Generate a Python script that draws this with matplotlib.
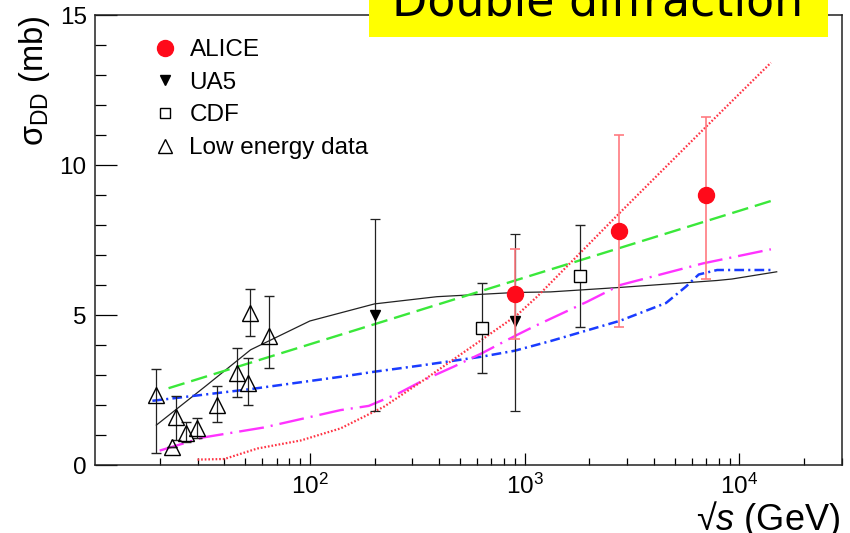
import matplotlib
matplotlib.use("Agg")
import matplotlib.pyplot as plt
from matplotlib.lines import Line2D
from matplotlib.patches import Rectangle
from matplotlib.ticker import FixedLocator, LogLocator, NullFormatter, LogFormatterSciNotation
import numpy as np

plt.rcParams['font.family'] = ['Liberation Sans', 'DejaVu Sans']
plt.rcParams['mathtext.fontset'] = 'custom'
plt.rcParams['mathtext.rm'] = 'Liberation Sans'
plt.rcParams['mathtext.it'] = 'Liberation Sans:italic'
plt.rcParams['mathtext.bf'] = 'Liberation Sans:bold'
plt.rcParams['lines.scale_dashes'] = False

# ---- measurements ----
alice_x = [900, 2760, 7000]
alice_y = [5.7, 7.8, 9.0]
alice_lo = [1.5, 3.2, 2.8]
alice_hi = [1.5, 3.2, 2.6]

ua5_x = [200, 900]
ua5_y = [5.0, 4.8]
ua5_lo = [3.2, 3.0]
ua5_hi = [3.2, 2.9]

cdf_x = [630, 1800]
cdf_y = [4.58, 6.3]
cdf_lo = [1.5, 1.7]
cdf_hi = [1.5, 1.7]

low_x = [19.3, 23.7, 22.9, 26.5, 29.8, 36.8, 45.8, 51.8, 52.5, 64.8]
low_y = [2.33, 1.59, 0.59, 1.06, 1.22, 2.0, 3.06, 2.74, 5.06, 4.3]
low_lo = [1.94, 0.76, 0.0, 0.28, 0.31, 0.56, 0.78, 0.74, 0.76, 1.06]
low_hi = [0.87, 0.71, 0.0, 0.38, 0.36, 0.63, 0.85, 0.82, 0.81, 1.34]

# ---- model curves ----
black_x = [19.3, 33, 53, 100, 200, 390, 900, 1320, 2790, 7860, 9230, 14900]
black_y = [1.33, 2.65, 3.84, 4.8, 5.37, 5.61, 5.75, 5.77, 5.92, 6.15, 6.2, 6.44]

green_x = [22, 14000]
green_y = [2.56, 8.8]

blue_x = [18.5, 53, 139, 200, 323, 630, 900, 1318, 2786, 4550, 5640, 6460, 7870, 14000]
blue_y = [2.14, 2.53, 2.94, 3.11, 3.31, 3.61, 3.81, 4.13, 4.81, 5.4, 5.95, 6.35, 6.5, 6.5]

magenta_x = [20, 32, 61, 139, 188, 259, 339, 468, 630, 900, 1100, 1950, 2786, 6760, 14000]
magenta_y = [0.48, 0.92, 1.25, 1.83, 1.97, 2.39, 2.83, 3.28, 3.72, 4.3, 4.61, 5.44, 6.0, 6.72, 7.19]

red_x = [30, 40, 57, 91, 139, 221, 339, 630, 922, 1142, 2757, 7000, 14000]
red_y = [0.18, 0.2, 0.55, 0.82, 1.22, 1.94, 2.83, 4.17, 5.0, 5.61, 8.39, 11.28, 13.41]

legend_labels = ['ALICE', 'UA5', 'CDF', 'Low energy data']
title_text = 'Double diffraction'
x_major = [1e2, 1e3, 1e4]
y_major = [0, 5, 10, 15]

W, H = 850, 533
fig = plt.figure(figsize=(W / 100, H / 100), dpi=100)
ax = fig.add_axes([95 / W, 1 - 465 / H, (842 - 95) / W, (465 - 15) / H])

ax.set_xscale('log')
ax.set_xlim(10, 3e4)
ax.set_ylim(0, 15)

# curves
ax.plot(black_x, black_y, color='#222222', lw=0.9, zorder=2)
ax.plot(green_x, green_y, color='#3ae83a', lw=1.7, dashes=(12, 5), zorder=2)
ax.plot(blue_x, blue_y, color='#1a3cff', lw=1.8, dashes=(7, 3, 1.5, 3), zorder=2)
ax.plot(magenta_x, magenta_y, color='#ff33ff', lw=1.7, dashes=(18, 5, 1.5, 5), zorder=2)
ax.plot(red_x, red_y, color='#ff3344', lw=1.6, dashes=(1.2, 1.4), zorder=2)

# data points
ax.errorbar(low_x, low_y, yerr=[low_lo, low_hi], fmt='^', ms=12, mfc='none',
            mec='black', mew=1.0, ecolor='#222222', elinewidth=0.9, capsize=3.5,
            capthick=0.9, zorder=4)
ax.errorbar(cdf_x, cdf_y, yerr=[cdf_lo, cdf_hi], fmt='s', ms=8.2, mfc='white',
            mec='black', mew=1.0, ecolor='#222222', elinewidth=0.9, capsize=3.5,
            capthick=0.9, zorder=4)
ax.errorbar(ua5_x, ua5_y, yerr=[ua5_lo, ua5_hi], fmt='v', ms=7, mfc='black',
            mec='black', ecolor='#222222', elinewidth=0.9, capsize=3.5,
            capthick=0.9, zorder=4)
ax.errorbar(alice_x, alice_y, yerr=[alice_lo, alice_hi], fmt='o', ms=11.5,
            mfc='#ff0a1a', mec='#ff0a1a', ecolor='#ff7a80', elinewidth=1.2,
            capsize=3.5, capthick=1.2, zorder=5)

# axes styling
for s in ax.spines.values():
    s.set_linewidth(1.1)
    s.set_color('#222222')
ax.yaxis.set_major_locator(FixedLocator(y_major))
ax.yaxis.set_minor_locator(FixedLocator(np.arange(0, 16, 1)))
ax.xaxis.set_major_locator(FixedLocator(x_major))
ax.xaxis.set_major_formatter(LogFormatterSciNotation())
ax.xaxis.set_minor_locator(LogLocator(base=10, subs=np.arange(2, 10), numticks=20))
ax.xaxis.set_minor_formatter(NullFormatter())
ax.tick_params(axis='y', which='major', direction='in', length=15.5, width=0.9,
               labelsize=17.5, pad=6, right=False)
ax.tick_params(axis='y', which='minor', direction='in', length=8, width=0.9, right=False)
ax.tick_params(axis='x', which='major', direction='in', length=8.6, width=0.9,
               labelsize=17.5, pad=6, top=False)
ax.tick_params(axis='x', which='minor', direction='in', length=5, width=0.9, top=False)

# legend
handles = [
    Line2D([], [], ls='none', marker='o', ms=11.5, mfc='#ff0a1a', mec='#ff0a1a'),
    Line2D([], [], ls='none', marker='v', ms=7.5, mfc='black', mec='black'),
    Line2D([], [], ls='none', marker='s', ms=7.5, mfc='white', mec='black', mew=1.0),
    Line2D([], [], ls='none', marker='^', ms=10, mfc='none', mec='black', mew=1.0),
]
ax.legend(handles, legend_labels, loc='upper left', bbox_to_anchor=(58 / 747, 1 - 24 / 450),
          frameon=False, fontsize=17.5, handlelength=1.0, handletextpad=0.5,
          labelspacing=0.44, borderpad=0, borderaxespad=0)

# axis titles
fig.text(35 / W, 1 - 16 / H, r'$\mathrm{σ}_{\mathrm{DD}}$ (mb)', rotation=90,
         ha='center', va='top', fontsize=23.5)
fig.text(840 / W, 1 - 530 / H, '√$\\mathit{s}$ (GeV)', ha='right', va='baseline',
         fontsize=26)

# headline box
fig.add_artist(Rectangle((369 / W, 1 - 37 / H), (828 - 369) / W, 37 / H,
                         transform=fig.transFigure, facecolor='#ffff00',
                         edgecolor='none', zorder=10))
fig.text(598 / W, 1 - 15.5 / H, title_text, ha='center', va='baseline',
         fontsize=33, family='DejaVu Sans', color='black', zorder=11)

fig.savefig('out.png', dpi=100)
